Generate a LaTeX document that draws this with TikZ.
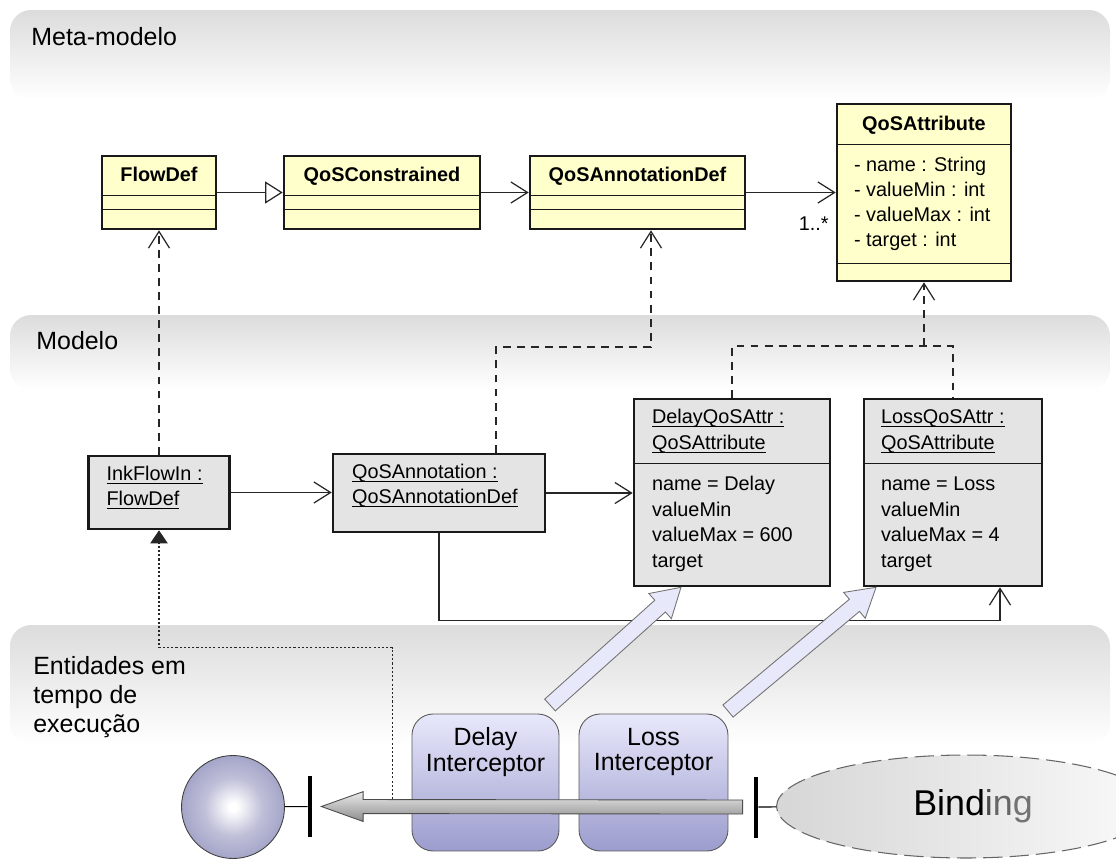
\documentclass[tikz,border=0pt]{standalone}
\usepackage{fontspec}
\setmainfont{Liberation Sans}
\usetikzlibrary{arrows.meta,calc,shapes.geometric}

\definecolor{classfill}{HTML}{FFFFCC}
\definecolor{objfill}{HTML}{E4E4E4}
\definecolor{bandgray}{HTML}{DCDCDC}
\definecolor{lilac}{HTML}{E8E8FB}
\definecolor{lilacdark}{HTML}{9C9CCE}
\definecolor{ballrim}{HTML}{8C8CBA}
\colorlet{ballmid}{ballrim!55!white}

\pgfdeclareradialshading{sphereshade}{\pgfpoint{0bp}{0bp}}{color(0bp)=(white); color(2bp)=(white); color(14bp)=(ballmid); color(35bp)=(ballrim); color(50bp)=(ballrim)}

% underlined instance name
\newcommand\objname[1]{$\underline{\smash{\hbox{#1}}}$}

% block arrow: style, tail, tip, half shaft, half head, head length
\newcommand\blockarrow[6]{%
  \coordinate (neck) at ($(#3)!#6!(#2)$);
  \path[#1] ($(#2)!#4!-90:(#3)$) -- ($(neck)!#4!90:(#2)$)
    -- ($(neck)!#5!90:(#2)$) -- (#3) -- ($(neck)!#5!-90:(#2)$)
    -- ($(neck)!#4!-90:(#2)$) -- ($(#2)!#4!90:(#3)$) -- cycle;
}

\begin{document}
\begin{tikzpicture}[x=0.02cm, y=-0.02cm,
  band/.style={top color=bandgray, bottom color=white, rounded corners=12pt},
  lbl/.style={font=\fontsize{14.2}{16.5}\selectfont, inner sep=0pt, align=left},
  cls/.style={draw=black!90, line width=1.5pt, fill=classfill, inner sep=0pt},
  obj/.style={draw=black!90, line width=1.5pt, fill=objfill, inner sep=0pt},
  sep/.style={black!90, line width=0.75pt},
  umltext/.style={font=\fontsize{11.3}{14}\selectfont, inner sep=0pt, text height=8.2pt, text depth=2.4pt},
  clsname/.style={umltext, font=\fontsize{11.3}{14}\selectfont\bfseries},
  assoc/.style={black!85, line width=0.7pt, -{Straight Barb[length=9.5pt,width=12pt]}},
  realize/.style={assoc, dash pattern=on 4.5pt off 3.5pt},
  inherit/.style={black!85, line width=0.7pt, -{Triangle[length=10pt,width=12.5pt,fill=white]}},
  trace/.style={black!85, line width=0.6pt, dash pattern=on 1.2pt off 1.2pt, -{Triangle[length=7.5pt,width=10pt]}},
  interceptor/.style={draw=black!65, line width=0.5pt, rounded corners=12pt, top color=lilac, bottom color=lilacdark, minimum height=2.74cm},
  bar/.style={fill=black, inner sep=0pt, minimum width=0.08cm, minimum height=1.22cm}]
\useasboundingbox (0,0) rectangle (1116,859);
\clip (0,0) rectangle (1116,859);

% layers
\shade[band] (10,10) rectangle (1110,100);
\shade[band] (10,315) rectangle (1110,390);
\shade[band] (10,625) rectangle (1110,745);
\node[lbl, anchor=west] (meta) at (31,37) {Meta-modelo};
\node[lbl, anchor=west] (modelo) at (36,341) {Modelo};
\node[lbl, anchor=north west] (runtime) at (33,656) {Entidades em\\tempo de\\execução};

% meta-model classes
\node[cls, minimum width=2.28cm, minimum height=1.46cm] (flowdef) at (159,192.5) {};
\node[cls, minimum width=3.92cm, minimum height=1.46cm] (qosc) at (382,192.5) {};
\node[cls, minimum width=4.3cm, minimum height=1.46cm] (qosadef) at (637.5,192.5) {};
\node[cls, minimum width=3.48cm, minimum height=3.54cm] (qosattr) at (924,192.5) {};
\foreach \c/\t in {flowdef/FlowDef, qosc/QoSConstrained, qosadef/QoSAnnotationDef} {
  \node[clsname] (\c-name) at ($(\c.north)+(0,22)$) {\t};
  \draw[sep] ($(\c.north west)+(0,41)$) -- ($(\c.north east)+(0,41)$);
  \draw[sep] ($(\c.north west)+(0,55)$) -- ($(\c.north east)+(0,55)$);
}
\node[clsname] (qosattr-name) at ($(qosattr.north)+(0,23)$) {QoSAttribute};
\draw[sep] ($(qosattr.north west)+(0,42)$) -- ($(qosattr.north east)+(0,42)$);
\draw[sep] ($(qosattr.south west)+(0,-19)$) -- ($(qosattr.south east)+(0,-19)$);
\foreach \t [count=\i] in {- name : String, - valueMin : int, - valueMax : int, - target : int}
  \node[umltext, anchor=west] (qosattr-a\i) at ($(qosattr.north west)+(18,38+25.3*\i)$) {\t};

\draw[inherit] (flowdef) -- (qosc);
\draw[assoc] (qosc) -- (qosadef);
\draw[assoc] (qosadef) -- (qosattr);
\node[umltext, anchor=east] (mult) at (829,225) {1..*};

% model objects
\node[obj, minimum width=2.82cm, minimum height=1.46cm] (inkflow) at (159,492.5) {};
\node[obj, minimum width=4.24cm, minimum height=1.56cm] (qosann) at (439,493) {};
\node[obj, minimum width=3.92cm, minimum height=3.74cm] (delayattr) at (732,492.5) {};
\node[obj, minimum width=3.56cm, minimum height=3.74cm] (lossattr) at (953,492.5) {};
\node[umltext, anchor=west] (inkflow-n1) at ($(inkflow.north west)+(19,21)$) {\objname{InkFlowIn :}};
\node[umltext, anchor=west] (inkflow-n2) at ($(inkflow.north west)+(19,46)$) {\objname{FlowDef}};
\node[umltext, anchor=west] (qosann-n1) at ($(qosann.north west)+(20,21)$) {\objname{QoSAnnotation :}};
\node[umltext, anchor=west] (qosann-n2) at ($(qosann.north west)+(20,46)$) {\objname{QoSAnnotationDef}};
\foreach \o/\oname/\v/\m/\dx in {delayattr/DelayQoSAttr/Delay/600/19, lossattr/LossQoSAttr/Loss/4/18} {
  \node[umltext, anchor=west] (\o-n1) at ($(\o.north west)+(\dx,21)$) {\objname{\oname{} :}};
  \node[umltext, anchor=west] (\o-n2) at ($(\o.north west)+(\dx,47)$) {\objname{QoSAttribute}};
  \draw[sep] ($(\o.north west)+(0,66)$) -- ($(\o.north east)+(0,66)$);
  \foreach \t [count=\i] in {name = \v, valueMin, valueMax = \m, target}
    \node[umltext, anchor=west] (\o-a\i) at ($(\o.north west)+(\dx,62.6+25.4*\i)$) {\t};
}

\draw[assoc] (inkflow.east) -- (inkflow.east -| qosann.west);
\draw[assoc] (qosann.east) -- (qosann.east -| delayattr.west);
\draw[realize] (inkflow) -- (flowdef);
\coordinate (annbend) at (651,347);
\draw[realize] ($(qosann.north)+(57,0)$) |- (annbend) -- (annbend |- qosadef.south);
\coordinate (attrjoin) at (924,346);
\draw[realize, -] (delayattr.north) |- (attrjoin) -| (lossattr.north);
\draw[realize] (attrjoin) -- (qosattr.south);
\draw[assoc] (qosann.south) -- ++(0,87) -| ($(lossattr.south)+(47,0)$);

% runtime entities
\node[circle, draw=black!75, line width=0.5pt, shading=sphereshade, minimum size=2.06cm, inner sep=0pt] (client) at (233,807) {};
\node[bar] (leftbar) at (310,806.5) {};
\node[bar] (rightbar) at (756,807) {};
\node[ellipse, draw=black!60, line width=0.6pt, dash pattern=on 11pt off 4pt, left color=black!16, right color=black!2, minimum width=7.58cm, minimum height=2.06cm, inner sep=0pt,
  font=\fontsize{20.4}{22}\selectfont] (binding) at (966,806.5)
  {\hspace{8pt}{\color{black}Bind}{\color{black!70}i}{\color{black!60}n}{\color{black!55}g}};
\draw[line width=0.6pt] (client) -- (leftbar);
\draw[line width=0.6pt] (rightbar) -- (binding);

\node[interceptor, minimum width=2.94cm] (delayint) at (485.5,782.5) {};
\node[interceptor, minimum width=2.98cm] (lossint) at (653.5,782.5) {};
\node[lbl, align=center, font=\fontsize{14.2}{14.5}\selectfont] (delayint-t) at ($(delayint.north)+(0,38.5)$) {Delay\\Interceptor};
\node[lbl, align=center, font=\fontsize{14.2}{14.5}\selectfont] (lossint-t) at ($(lossint.north)+(0,38.5)$) {Loss\\Interceptor};

\coordinate (flowtail) at ($(rightbar.west)+(-11,0)$);
\coordinate (flowtip) at ($(leftbar.east)+(9,0)$);
\coordinate (tracestart) at ($(flowtip)+(71,-7)$);
\draw[trace] (tracestart) -- ++(0,-152) -| (inkflow.south);
\blockarrow{top color=black!8, bottom color=black!45, draw=black!70, line width=0.5pt}{flowtail}{flowtip}{4pt}{8.5pt}{23.8pt}

\coordinate (delaypush) at (550,705);
\coordinate (delaytip) at ($(delayattr.south)+(-51,0)$);
\coordinate (losspush) at (728,711);
\coordinate (losstip) at ($(lossattr.south)+(-77,0)$);
\blockarrow{draw=black!55, fill=lilac, line width=0.5pt}{delaypush}{delaytip}{4.5pt}{9.6pt}{16pt}
\blockarrow{draw=black!55, fill=lilac, line width=0.5pt}{losspush}{losstip}{4.5pt}{9.6pt}{16pt}
\end{tikzpicture}
\end{document}
